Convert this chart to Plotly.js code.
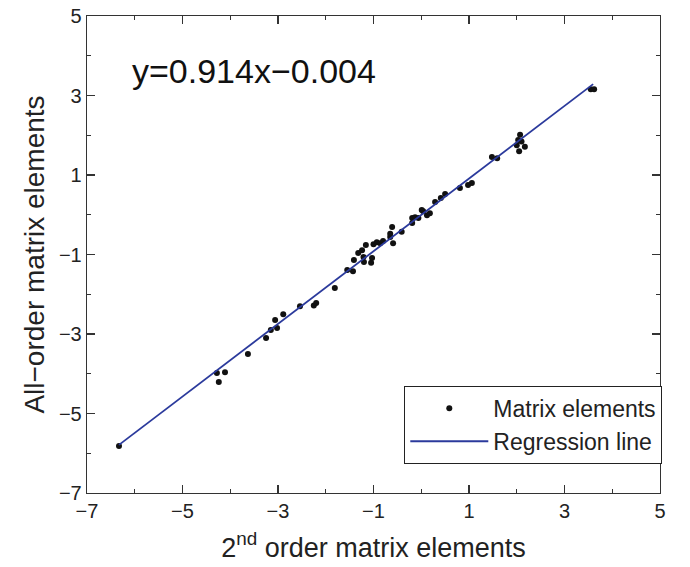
<!DOCTYPE html>
<html><head><meta charset="utf-8">
<script src="https://cdn.plot.ly/plotly-3.0.1.min.js"></script>
<style>body{margin:0;background:#fff}#c{width:690px;height:567px}</style>
</head><body><div id="c"></div>
<script>
const xVals = [-6.33,-4.28,-4.11,-4.24,-3.63,-3.25,-3.15,-3.02,-3.06,-2.89,-2.54,-2.25,-2.20,
  -1.81,-1.55,-1.43,-1.41,-1.32,-1.24,-1.21,-1.16,-1.20,-1.05,-1.03,-1.00,-0.93,-0.86,-0.80,
  -0.65,-0.61,-0.65,-0.59,-0.41,-0.19,-0.19,-0.13,-0.06,0.04,0.12,0.18,0.29,0.01,
  0.50,0.41,0.81,0.98,1.06,1.48,1.59,2.05,2.07,2.03,2.10,2.00,2.17,3.55,3.62];
const yVals = [-5.82,-3.98,-3.96,-4.21,-3.50,-3.10,-2.90,-2.85,-2.65,-2.50,-2.30,-2.28,-2.22,
  -1.84,-1.39,-1.42,-1.14,-0.96,-0.89,-1.06,-0.76,-1.19,-1.21,-1.09,-0.74,-0.69,-0.72,-0.66,
  -0.56,-0.31,-0.48,-0.72,-0.43,-0.21,-0.08,-0.06,-0.08,0.09,-0.01,0.04,0.32,0.12,
  0.52,0.42,0.67,0.75,0.80,1.45,1.42,1.60,2.01,1.88,1.84,1.75,1.71,3.16,3.16];
const slope = 0.914, intercept = -0.004;
const lineX = [-6.33, 3.6];
const lineY = lineX.map(x => slope * x + intercept);
const tickVals = [-7,-5,-3,-1,1,3,5];

const font = 'Liberation Sans, Arial, sans-serif';
const axisCommon = {
  range: [-7, 5], tickvals: tickVals, ticktext: tickVals.map(v => v < 0 ? '\u2212' + Math.abs(v) : String(v)),
  ticks: 'inside', ticklen: 8, tickwidth: 1.3, tickcolor: '#333',
  showline: true, linecolor: '#333', linewidth: 1.3, mirror: 'ticks',
  showgrid: false, zeroline: false,
  tickfont: {family: font, size: 20, color: '#222'},
  minor: {dtick: 1, ticks: 'inside', ticklen: 4, tickcolor: '#333', tickwidth: 1, showgrid: false}
};
const data = [
  {x: xVals, y: yVals, mode: 'markers', type: 'scatter', name: 'Matrix elements',
   marker: {color: '#111', size: 6}},
  {x: lineX, y: lineY, mode: 'lines', type: 'scatter', name: 'Regression line',
   line: {color: '#2b3a9c', width: 1.8}}
];
const layout = {
  width: 690, height: 567,
  margin: {l: 87, r: 30, t: 16, b: 74},
  paper_bgcolor: '#fff', plot_bgcolor: '#fff',
  font: {family: font, color: '#222'},
  xaxis: Object.assign({}, axisCommon, {
    title: {text: '2<sup>nd</sup> order matrix elements', font: {family: font, size: 27, color: '#222'}, standoff: 16}
  }),
  yaxis: Object.assign({}, axisCommon, {
    title: {text: 'All\u2212order matrix elements', font: {family: font, size: 28, color: '#222'}, standoff: 6}
  }),
  showlegend: true,
  legend: {x: 1.004, xanchor: 'right', y: 0.061, yanchor: 'bottom',
    bordercolor: '#222', borderwidth: 1, bgcolor: '#fff', itemwidth: 78,
    font: {family: font, size: 23, color: '#222'}, tracegroupgap: 0},
  annotations: [{x: -6.1, y: 3.62, xref: 'x', yref: 'y', xanchor: 'left', yanchor: 'middle',
    text: 'y=0.914x\u22120.004', showarrow: false, font: {family: font, size: 34, color: '#111'}}]
};
Plotly.newPlot('c', data, layout, {displayModeBar: false, staticPlot: true});
</script></body></html>
